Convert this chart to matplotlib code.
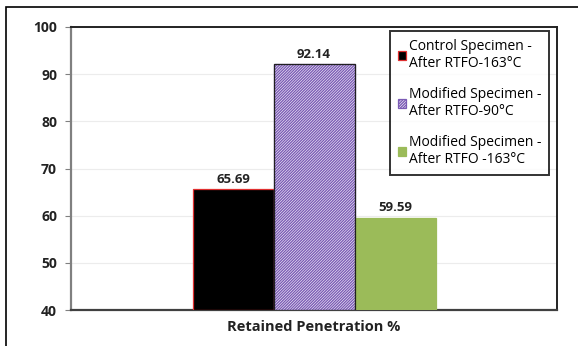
import matplotlib.pyplot as plt
import matplotlib as mpl
from matplotlib.patches import Rectangle

# retained penetration after RTFO ageing
series_labels = ['Control Specimen -\nAfter RTFO-163°C',
                 'Modified Specimen -\nAfter RTFO-90°C',
                 'Modified Specimen -\nAfter RTFO -163°C']
values = [65.69, 92.14, 59.59]
category = 'Retained Penetration %'
y_ticks = [40, 50, 60, 70, 80, 90, 100]

plt.rcParams['font.family'] = ['Open Sans', 'DejaVu Sans']
plt.rcParams['hatch.linewidth'] = 1.0

fig = plt.figure(figsize=(5.78, 3.46), dpi=100)
ax = fig.add_axes([71 / 578, 1 - 310 / 346, (557 - 71) / 578, (310 - 27) / 346])

# outer chart frame (only top and left edges are inside the canvas)
fig.add_artist(Rectangle((6 / 578, -0.1), 1.2, 1 - 7 / 346 + 0.1,
                         transform=fig.transFigure, fill=False,
                         edgecolor='black', linewidth=1.2))

xs = [-1, 0, 1]
face = ['black', 'white', '#9BBB59']
edge = ['#E03030', '#303030', '#9BBB59']
hatch = [None, '/' * 12, None]
for x, v, fc, ec, h, lab in zip(xs, values, face, edge, hatch, series_labels):
    b = ax.bar(x, v - 40, bottom=40, width=1.0, color=fc, edgecolor=ec,
               linewidth=0.9, hatch=h, label=lab, zorder=3)
    if h:
        b[0].set_edgecolor('#7B5BB5')
        # separate outline drawn on top so the hatch can stay purple
        ax.bar(x, v - 40, bottom=40, width=1.0, fill=False,
               edgecolor='#202020', linewidth=0.9, zorder=4)
    ax.text(x, v + 0.7, f'{v:.2f}', ha='center', va='bottom',
            fontsize=9.5, fontweight='bold', color='#222222')

ax.set_xlim(-3, 3)
ax.set_ylim(40, 100)
ax.set_yticks(y_ticks)
ax.set_yticklabels([str(t) for t in y_ticks], fontsize=10, fontweight='bold',
                   color='#222222')
ax.set_xticks([])
ax.set_xlabel(category, fontsize=10.5, fontweight='bold', color='#222222',
              labelpad=7)
ax.tick_params(axis='y', length=4, width=0.8, color='#808080', pad=6)
ax.grid(axis='y', color='#ECECEC', linewidth=0.8, zorder=0)
for side in ['top', 'right']:
    ax.spines[side].set_color('#222222')
    ax.spines[side].set_linewidth(1.4)
ax.spines['left'].set_color('#808080')
ax.spines['left'].set_linewidth(1.6)
ax.spines['bottom'].set_color('#404040')
ax.spines['bottom'].set_linewidth(1.6)

leg = ax.legend(loc='upper right', bbox_to_anchor=(0.99, 0.995),
                fontsize=10, frameon=True, fancybox=False,
                handlelength=0.6, handleheight=0.6, handletextpad=0.25,
                labelspacing=1.15, borderpad=0.55, borderaxespad=0.2)
leg.get_frame().set_edgecolor('black')
leg.get_frame().set_linewidth(1.4)
leg.set_zorder(5)

fig.savefig('out.png', dpi=100)
